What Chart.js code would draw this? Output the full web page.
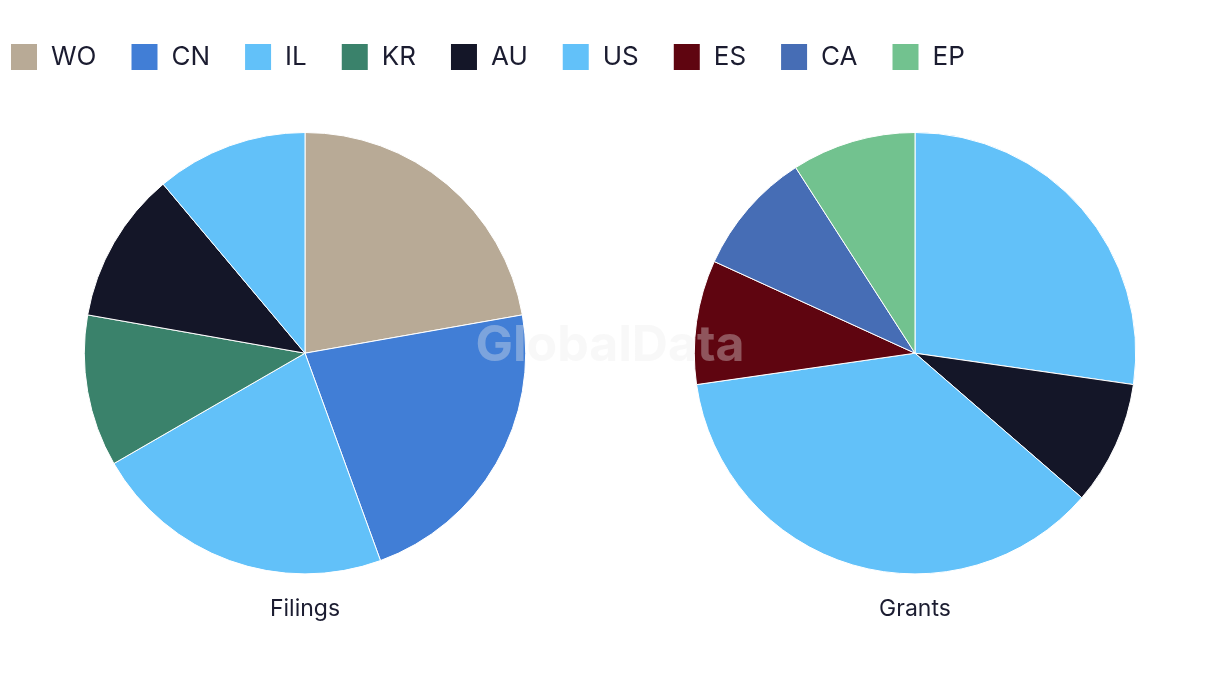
<!DOCTYPE html>
<html>
<head>
<meta charset="utf-8">
<script src="https://cdn.jsdelivr.net/npm/chart.js@4.4.1/dist/chart.umd.min.js"></script>
<style>
  body { margin: 0; background: #fff; width: 1220px; height: 686px; overflow: hidden; position: relative; }
  canvas { position: absolute; }
  #legendChart { left: -24px; top: 9px; }
  #filingsChart { left: 0; top: 0; }
  #grantsChart { left: 610px; top: 0; }
  #mark {
    position: absolute; left: 0; width: 1220px; top: 313px; text-align: center;
    font: bold 50px Inter, sans-serif; color: rgba(235, 235, 235, 0.35);
    pointer-events: none; z-index: 5;
  }
</style>
</head>
<body>
<canvas id="legendChart" width="1244" height="122"></canvas>
<canvas id="filingsChart" width="610" height="686"></canvas>
<canvas id="grantsChart" width="610" height="686"></canvas>
<div id="mark">GlobalData</div>
<script>
const labels = ['WO', 'CN', 'IL', 'KR', 'AU', 'US', 'ES', 'CA', 'EP'];
const filings = [2, 2, 2, 1, 1, 1, 0, 0, 0];
const grants = [0, 0, 3, 0, 1, 4, 1, 1, 1];
const colors = ['#b8aa96', '#417ed6', '#62c1f9', '#3a826b', '#141628', '#62c1f9', '#5f0510', '#466db5', '#72c28f'];

const textColor = '#1b1c30';

// legend only, dataset hidden
new Chart(document.getElementById('legendChart'), {
    type: 'pie',
    data: {
        labels: labels,
        datasets: [{ data: filings, backgroundColor: colors, hidden: true }]
    },
    options: {
        responsive: false,
        animation: false,
        plugins: {
            tooltip: { enabled: false },
            legend: {
                position: 'top',
                align: 'start',
                labels: {
                    boxWidth: 28,
                    boxHeight: 28,
                    padding: 34,
                    color: textColor,
                    font: { family: 'Inter', size: 26 }
                }
            }
        }
    }
});

function makePie(id, values, title) {
    return new Chart(document.getElementById(id), {
        type: 'pie',
        data: {
            labels: labels,
            datasets: [{
                data: values,
                backgroundColor: colors,
                borderColor: '#ffffff',
                borderWidth: 1
            }]
        },
        options: {
            responsive: false,
            animation: false,
            layout: { padding: { top: 132, bottom: 63, left: 0, right: 0 } },
            plugins: {
                legend: { display: false },
                tooltip: { enabled: false },
                title: {
                    display: true,
                    text: title,
                    position: 'bottom',
                    color: textColor,
                    font: { family: 'Inter', size: 23, weight: 'normal' },
                    padding: { top: 21, bottom: 0 }
                }
            }
        }
    });
}

makePie('filingsChart', filings, 'Filings');
makePie('grantsChart', grants, 'Grants');
</script>
</body>
</html>
